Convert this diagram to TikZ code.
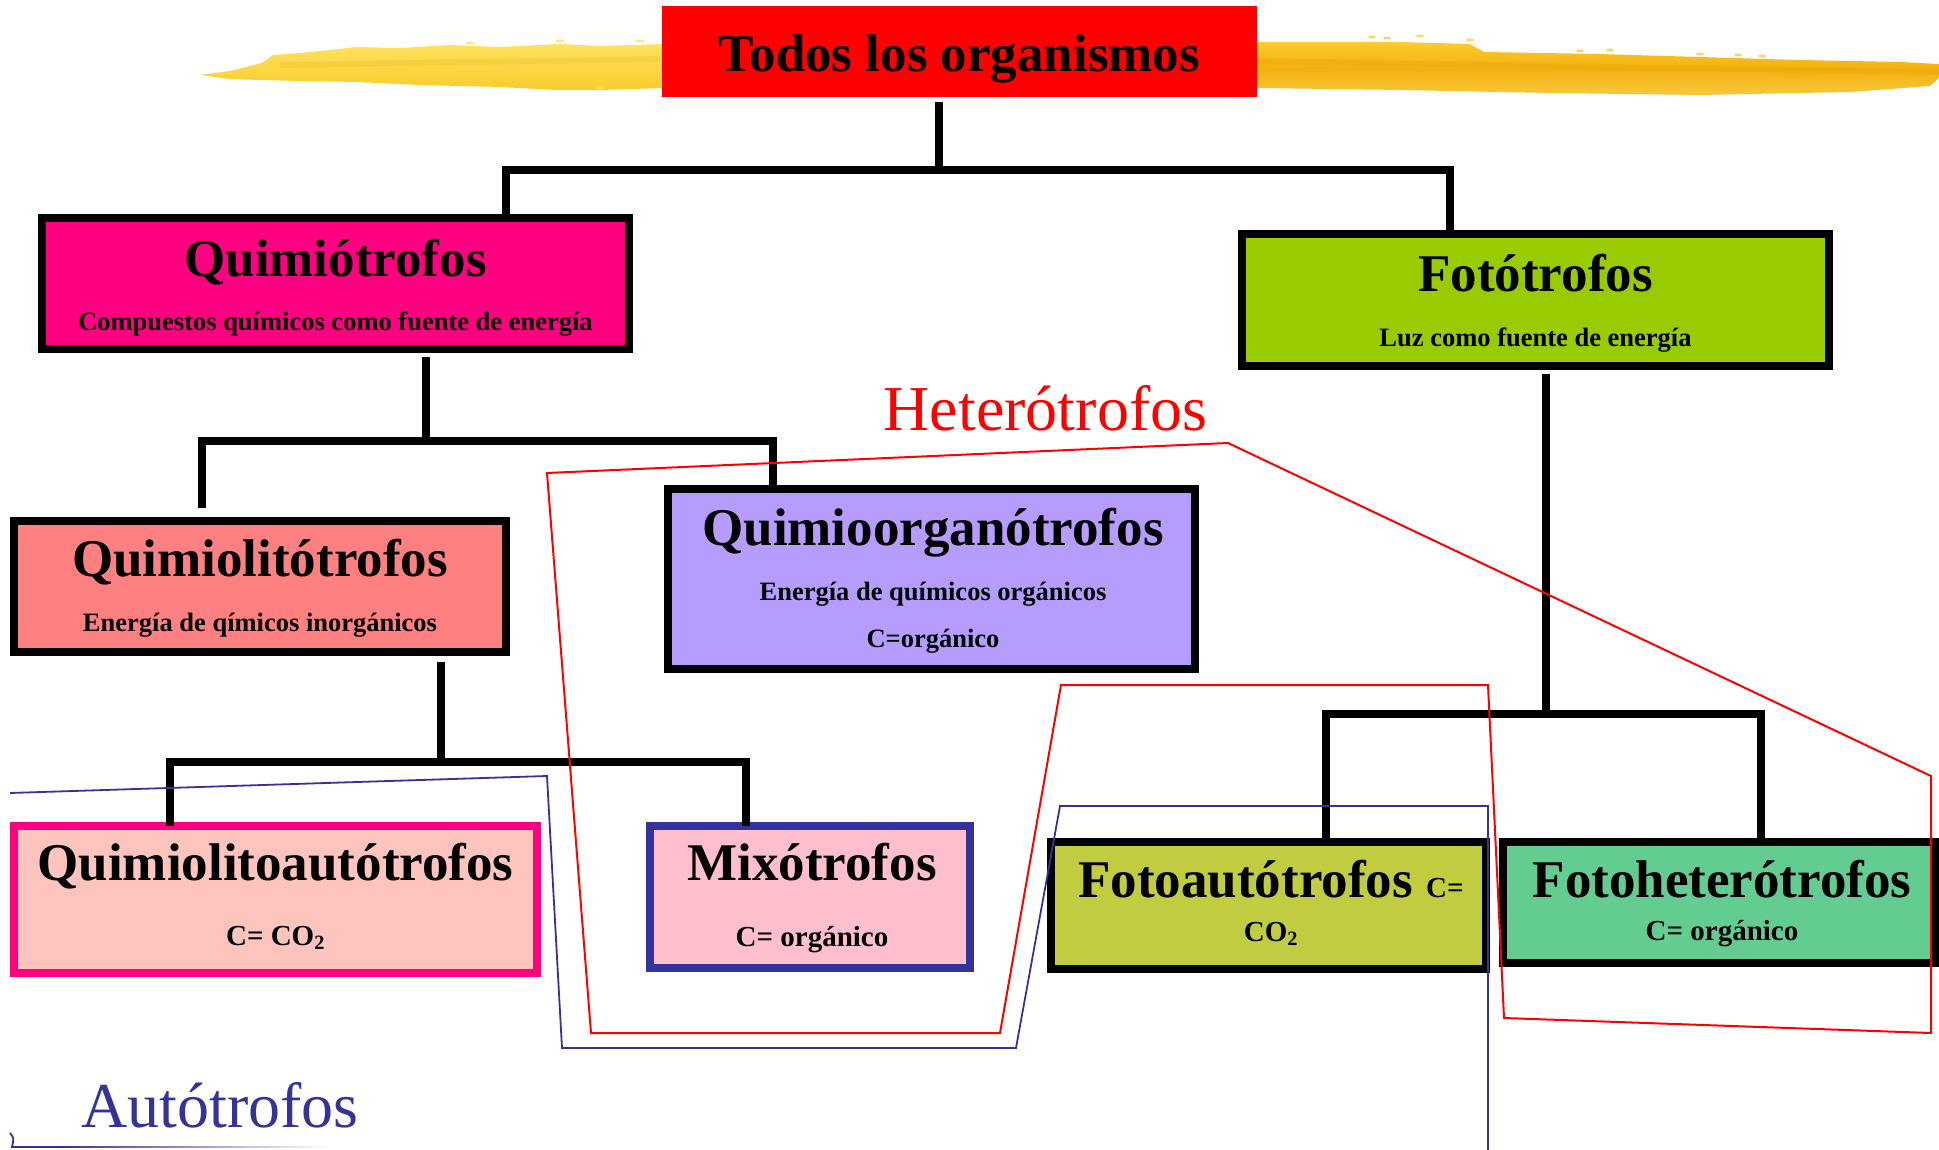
\documentclass[tikz,border=0pt]{standalone}
\usepackage{fontspec}
\setmainfont{Liberation Serif}
\usetikzlibrary{calc}
\definecolor{topred}{HTML}{FF0000}
\definecolor{quimc}{HTML}{FF0080}
\definecolor{fotoc}{HTML}{99CC00}
\definecolor{lithoc}{HTML}{FF8080}
\definecolor{orgc}{HTML}{B79CFF}
\definecolor{qlaf}{HTML}{FFC4BD}
\definecolor{qlab}{HTML}{FF0080}
\definecolor{mixof}{HTML}{FFBFCC}
\definecolor{mixob}{HTML}{333399}
\definecolor{fautof}{HTML}{C2CC40}
\definecolor{fheterof}{HTML}{63CC90}
\definecolor{hetred}{HTML}{FF0000}
\definecolor{autblue}{HTML}{333399}
\definecolor{brushL1}{HTML}{FFE260}
\definecolor{brushL2}{HTML}{F9CC2C}
\definecolor{brushR1}{HTML}{FFCB2E}
\definecolor{brushR2}{HTML}{F2B010}
\definecolor{brushR3}{HTML}{F8C83A}
\definecolor{brushD}{HTML}{E6A400}
\begin{document}
\begin{tikzpicture}[x=1pt,y=-1pt,
  box/.style={draw=black, line width=8pt, inner sep=0pt, outer sep=0pt},
  conn/.style={draw=black, line width=8pt, line join=miter},
  ttl/.style={font=\bfseries\fontsize{53}{60}\selectfont, anchor=base, inner sep=0pt},
  subt/.style={font=\bfseries\fontsize{26.5}{30}\selectfont, anchor=base, inner sep=0pt},
  csub/.style={font=\bfseries\fontsize{29}{34}\selectfont, anchor=base, inner sep=0pt},
  grp/.style={font=\fontsize{64}{70}\selectfont, anchor=base, inner sep=0pt},
  outl/.style={line width=2pt, line join=miter},
  speck/.style={fill=brushR1, opacity=0.8}
]
\useasboundingbox (0,0) rectangle (1939,1150);
\fill[white] (0,0) rectangle (1939,1150);

% yellow brush strokes
\shade[top color=brushL1, bottom color=brushL2]
  (200,75) -- (230,71) -- (262,63) -- (273,55) -- (300,53) -- (330,50) -- (357,47)
  -- (400,48) -- (450,45) -- (500,47) -- (560,44) -- (600,46) -- (664,44)
  -- (664,88) -- (600,90) -- (557,90) -- (500,87) -- (420,85) -- (357,82)
  -- (300,81) -- (260,80) -- (230,79) -- cycle;
\fill[brushD, opacity=0.18] (280,62) -- (664,56) -- (664,62) -- (280,68) -- cycle;
\shade[top color=brushR1, bottom color=brushR3, middle color=brushR2]
  (1257,42) -- (1400,42) -- (1470,44) -- (1484,52) -- (1600,54) -- (1700,57)
  -- (1800,60) -- (1900,62) -- (1939,64) -- (1939,78) -- (1930,86) -- (1850,92)
  -- (1700,95) -- (1550,93) -- (1400,90) -- (1257,88) -- cycle;
\fill[brushD, opacity=0.3] (1257,58) -- (1939,70) -- (1939,75) -- (1257,64) -- cycle;
\foreach \p in {(1372,37),(1387,38),(1420,36),(1470,40),(1580,51),(1610,50),(1700,54),(1738,55),(1762,56)}
  \fill[speck] \p ellipse (4pt and 1.5pt);
\foreach \p in {(470,43),(560,41),(640,41),(600,88)}
  \fill[speck, fill=brushL1] \p ellipse (5pt and 1.5pt);

% boxes
\node[fill=topred, minimum width=595pt, minimum height=91pt, inner sep=0pt] (top) at (959.5,51.5) {};
\node[box, fill=quimc, minimum width=587pt, minimum height=131pt] (quim) at (335.5,283.5) {};
\node[box, fill=fotoc, minimum width=587pt, minimum height=132pt] (foto) at (1535.5,300) {};
\node[box, fill=lithoc, minimum width=492pt, minimum height=131pt] (litho) at (260,586.5) {};
\node[box, fill=orgc, minimum width=527pt, minimum height=180pt] (org) at (931.5,579) {};
\node[box, draw=qlab, fill=qlaf, minimum width=523pt, minimum height=147pt] (qla) at (275.5,899.5) {};
\node[box, draw=mixob, fill=mixof, minimum width=320pt, minimum height=142pt] (mixo) at (810,897) {};
\node[box, fill=fautof, minimum width=435pt, minimum height=127pt] (fauto) at (1268.5,905.5) {};
\node[box, fill=fheterof, minimum width=432pt, minimum height=121pt] (fhetero) at (1719,902.5) {};

% texts
\node[ttl] (topT) at (959.5,72) {Todos los organismos};
\node[ttl] (quimT) at (335.5,277) {Quimiótrofos};
\node[subt] (quimS) at (335.5,331) {Compuestos químicos como fuente de energía};
\node[ttl] (fotoT) at (1535.5,292) {Fotótrofos};
\node[subt] (fotoS) at (1535.5,347) {Luz como fuente de energía};
\node[ttl] (lithoT) at (260,576) {Quimiolitótrofos};
\node[subt] (lithoS) at (260,631) {Energía de qímicos inorgánicos};
\node[ttl] (orgT) at (933,545) {Quimioorganótrofos};
\node[subt] (orgS) at (933,600) {Energía de químicos orgánicos};
\node[subt] (orgC) at (933,647) {C=orgánico};
\node[ttl] (qlaT) at (275.5,880) {Quimiolitoautótrofos};
\node[csub] (qlaS) at (275.5,945) {C= CO\textsubscript{2}};
\node[ttl] (mixoT) at (812,880) {Mixótrofos};
\node[csub] (mixoS) at (812,946) {C= orgánico};
\node[ttl] (fautoT) at (1271,897) {Fotoautótrofos {\fontsize{29}{32}\selectfont C=}};
\node[csub] (fautoS) at (1271,941) {CO\textsubscript{2}};
\node[ttl] (fheteroT) at (1722,897) {Fotoheterótrofos};
\node[csub] (fheteroS) at (1722,940) {C= orgánico};

% connectors
\coordinate (j0) at (939,170);
\coordinate (jq) at (506,170);
\coordinate (jf) at (1450,170);
\draw[conn] ([yshift=-5pt]top.south -| j0) -- (j0);
\draw[conn] (jq |- quim.north) -- (jq) -- (jf) -- (jf |- foto.north);

\coordinate (j1) at (426,441);
\coordinate (j1a) at (202,441);
\coordinate (j1b) at (773,441);
\draw[conn] ([yshift=-8pt]quim.south -| j1) -- (j1);
\draw[conn] ([yshift=13pt]litho.north -| j1a) -- (j1a) -- (j1b) -- (j1b |- org.north);

\coordinate (j2) at (441,762);
\coordinate (j2a) at (170,762);
\coordinate (j2b) at (746,762);
\draw[conn] ([yshift=-10pt]litho.south -| j2) -- (j2);
\draw[conn] (j2a |- qla.north) -- (j2a) -- (j2b) -- (j2b |- mixo.north);

\coordinate (j3) at (1546,714);
\coordinate (j3a) at (1326,714);
\coordinate (j3b) at (1761,714);
\draw[conn] ([yshift=-8pt]foto.south -| j3) -- (j3);
\draw[conn] (j3a |- fauto.north) -- (j3a) -- (j3b) -- (j3b |- fhetero.north);

% group outlines
\draw[outl, hetred] (547,473) -- (1228,443) -- (1931,776) -- (1931,1033) -- (1504,1018)
  -- (1488,685) -- (1061,685) -- (1000,1033) -- (591,1033) -- cycle;
\draw[outl, autblue, line width=1.8pt] (10,793) -- (547,776) -- (562,1048) -- (1016,1048)
  -- (1060,806) -- (1488,806) -- (1488,1150);
\draw[autblue, line width=1.8pt] (10,1133) .. controls (14,1138) .. (12,1147) -- (60,1147);
\shade[left color=autblue, right color=white] (60,1146.1) rectangle (330,1147.9);

\node[grp, text=hetred] (hetT) at (1045.5,430) {Heterótrofos};
\node[grp, text=autblue] (autT) at (220,1127) {Autótrofos};
\end{tikzpicture}
\end{document}
